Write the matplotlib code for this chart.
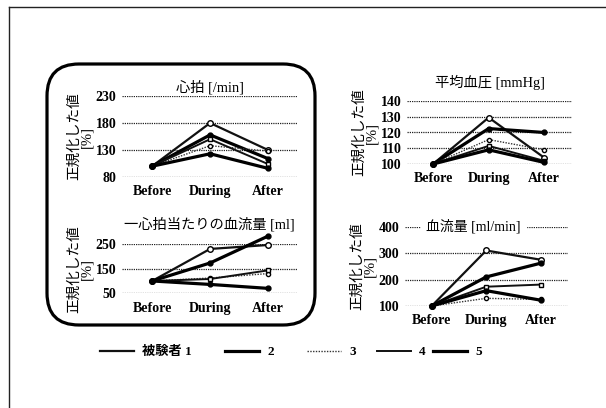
import matplotlib
matplotlib.use("Agg")
import matplotlib.pyplot as plt
from matplotlib.lines import Line2D
from matplotlib.patches import FancyBboxPatch

plt.rcParams["font.family"] = ["Liberation Serif", "Noto Sans CJK JP"]

phases = ["Before", "During", "After"]
subjects = ["被験者 1", "2", "3", "4", "5"]

# normalized values [%] per subject (Before, During, After)
heart_rate = [
    [100, 180, 130],
    [100, 158, 114],
    [100, 138, 128],
    [100, 150, 104],
    [100, 123, 96],
]
mean_bp = [
    [100, 129.5, 104],
    [100, 122.5, 120],
    [100, 115.5, 109],
    [100, 111.5, 102],
    [100, 109, 101],
]
stroke_volume = [
    [100, 230, 246],
    [100, 173, 282],
    [100, 112, 130],
    [100, 108, 143],
    [100, 86, 70],
]
blood_flow = [
    [100, 310, 275],
    [100, 210, 262],
    [100, 129, 125],
    [100, 173, 181],
    [100, 158, 122],
]

titles = ["心拍 [/min]", "平均血圧 [mmHg]", "一心拍当たりの血流量 [ml]", "血流量 [ml/min]"]
yticks = [[80, 130, 180, 230], [100, 110, 120, 130, 140], [50, 150, 250], [100, 200, 300, 400]]
datasets = [heart_rate, mean_bp, stroke_volume, blood_flow]

styles = [
    dict(color="#111111", lw=1.6, ls="-", marker="o", mfc="white", ms=4),
    dict(color="#000000", lw=2.3, ls="-", marker="o", mfc="#000000", ms=3.5),
    dict(color="#333333", lw=1.0, ls=(0, (1, 1)), marker="o", mfc="white", ms=3),
    dict(color="#111111", lw=1.4, ls="-", marker="s", mfc="white", ms=3.5),
    dict(color="#000000", lw=2.3, ls="-", marker="o", mfc="#000000", ms=3.5),
]

W, H = 606, 408
fig = plt.figure(figsize=(W / 100, H / 100), dpi=100)

# axes rectangles in pixels: (left, right, top, bottom), x-limits, title pad
boxes = [
    (122, 297, 96, 177, (-0.52, 2.5), 3),
    (407, 572, 101, 164, (-0.47, 2.5), 10),
    (122, 297, 244, 293.3, (-0.52, 2.5), 11),
    (405, 568, 226.7, 306, (-0.49, 2.5), 0),
]

for i, (x0, x1, y0, y1, xl, tpad) in enumerate(boxes):
    ax = fig.add_axes([x0 / W, 1 - y1 / H, (x1 - x0) / W, (y1 - y0) / H])
    ax.set_xlim(*xl)
    ax.set_ylim(yticks[i][0], yticks[i][-1])
    for t in yticks[i]:
        ax.axhline(t, color="#222222", lw=0.9, ls=(0, (1, 0.8)), zorder=1)
    for s, vals in enumerate(datasets[i]):
        st = styles[s]
        ax.plot(range(3), vals, color=st["color"], lw=st["lw"], ls=st["ls"],
                marker=st["marker"], mfc=st["mfc"], mec="#000000", ms=st["ms"],
                mew=1.0, clip_on=False, zorder=3)
    ax.set_xticks(range(3))
    ax.set_xticklabels(phases, fontsize=10, fontweight="bold")
    ax.set_yticks(yticks[i])
    ax.set_yticklabels([str(t) for t in yticks[i]], fontsize=10, fontweight="bold")
    ax.tick_params(length=0, pad=4)
    ax.tick_params(axis="x", pad=6)
    for sp in ax.spines.values():
        sp.set_visible(False)
    ax.patch.set_alpha(0)
    ax.set_ylabel("正規化した値\n[%]", fontsize=10.5, linespacing=0.9, labelpad=2)
    if i == 3:
        ax.text(0.42, 1.0, titles[i], transform=ax.transAxes, ha="center", va="center",
                fontsize=10, backgroundcolor="white", zorder=5)
    else:
        ax.set_title(titles[i], fontsize=10.3, pad=tpad)

# rounded frame around the left column
frame = FancyBboxPatch((0.47, 0.83), 2.68, 2.61, boxstyle="round,pad=0,rounding_size=0.32",
                       transform=fig.dpi_scale_trans, fill=False, lw=2.3, ec="#000000")
fig.add_artist(frame)

# page border (left and top edges)
fig.add_artist(Line2D([9 / W, 9 / W], [0, 1 - 7 / H], transform=fig.transFigure,
                      color="#222222", lw=1.0))
fig.add_artist(Line2D([9 / W, 1], [1 - 7 / H, 1 - 7 / H], transform=fig.transFigure,
                      color="#222222", lw=1.0))

# legend entries, each placed along the bottom row
legend_x = [100, 225, 307, 377, 433]
for st, label, lx in zip(styles, subjects, legend_x):
    h = Line2D([], [], color=st["color"], lw=st["lw"], ls=st["ls"])
    leg = fig.legend([h], [label], loc="center left", bbox_to_anchor=(lx / W, 1 - 352 / H),
                     frameon=False, handlelength=2.6, handletextpad=0.6, borderpad=0,
                     borderaxespad=0, prop={"size": 9.5, "weight": "bold"})

fig.savefig("out.png", dpi=100, facecolor="white")
